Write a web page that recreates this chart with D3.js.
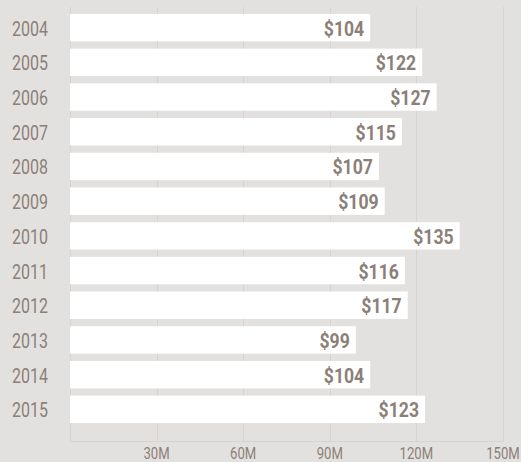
<!DOCTYPE html>
<html>
<head>
<meta charset="utf-8">
<script src="https://cdn.jsdelivr.net/npm/d3@7"></script>
<style>
  body { margin: 0; background: #e3e1df; }
  svg { display: block; }
  .year, .tick-label { font-family: Roboto, "DejaVu Sans Condensed", sans-serif; fill: #8c7f78; }
  .value { font-family: Roboto, "DejaVu Sans Condensed", sans-serif; font-weight: bold; fill: #8c7f78; }
</style>
</head>
<body>
<svg id="chart" width="521" height="462"></svg>
<script>
const years = ["2004","2005","2006","2007","2008","2009","2010","2011","2012","2013","2014","2015"];
const values = [104, 122, 127, 115, 107, 109, 135, 116, 117, 99, 104, 123];
const tickValues = [0, 30, 60, 90, 120, 150];

// the original uses a condensed face; squeeze Roboto horizontally instead
const SQUEEZE_YEAR = 0.8;
const SQUEEZE_VALUE = 0.84;
const SQUEEZE_TICK = 0.82;

const svg = d3.select("#chart");

const x = d3.scaleLinear().domain([0, 150]).range([70, 503]);
const y = d3.scaleBand()
  .domain(years)
  .range([7, 430])
  .paddingInner(0.21)
  .paddingOuter(0.2);

// gridlines
svg.append("g")
  .selectAll("line")
  .data(tickValues)
  .join("line")
  .attr("x1", d => Math.round(x(d)) + 0.5)
  .attr("x2", d => Math.round(x(d)) + 0.5)
  .attr("y1", 7)
  .attr("y2", 442)
  .attr("stroke", "#d6d3d0")
  .attr("stroke-width", 1);

// bottom axis line
svg.append("line")
  .attr("x1", x(0))
  .attr("x2", x(150))
  .attr("y1", 441.5)
  .attr("y2", 441.5)
  .attr("stroke", "#d6d3d0");

// tick labels
svg.append("g")
  .selectAll("text")
  .data(tickValues.filter(d => d > 0))
  .join("text")
  .attr("class", "tick-label")
  .attr("transform", d => `translate(${x(d)},459) scale(${SQUEEZE_TICK},1)`)
  .attr("text-anchor", "middle")
  .attr("font-size", 16)
  .text(d => d + "M");

const data = years.map((yr, i) => ({ year: yr, value: values[i] }));

// bars
svg.append("g")
  .selectAll("rect")
  .data(data)
  .join("rect")
  .attr("x", x(0))
  .attr("y", d => y(d.year))
  .attr("width", d => x(d.value) - x(0))
  .attr("height", y.bandwidth())
  .attr("fill", "#ffffff");

// value labels
svg.append("g")
  .selectAll("text")
  .data(data)
  .join("text")
  .attr("class", "value")
  .attr("transform", d => `translate(${x(d.value) - 6},${y(d.year) + y.bandwidth() / 2 + 8}) scale(${SQUEEZE_VALUE},1)`)
  .attr("text-anchor", "end")
  .attr("font-size", 21)
  .text(d => "$" + d.value);

// year labels
svg.append("g")
  .selectAll("text")
  .data(data)
  .join("text")
  .attr("class", "year")
  .attr("transform", d => `translate(12,${y(d.year) + y.bandwidth() / 2 + 8}) scale(${SQUEEZE_YEAR},1)`)
  .attr("font-size", 20)
  .text(d => d.year);
</script>
</body>
</html>
